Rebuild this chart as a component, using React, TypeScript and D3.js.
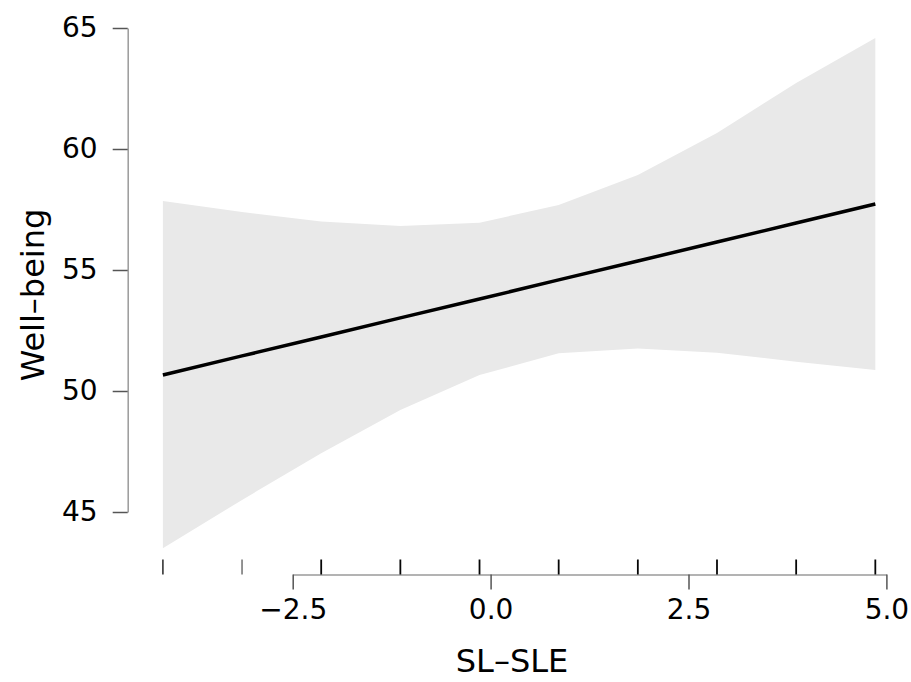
import React, { useEffect, useRef } from "react";
import * as d3 from "d3";

// values
const xValues = [-4.14, -3.14, -2.14, -1.14, -0.14, 0.86, 1.86, 2.86, 3.86, 4.86];
const upperCI = [57.85, 57.4, 57.0, 56.82, 56.95, 57.69, 58.93, 60.66, 62.73, 64.59];
const lowerCI = [43.5, 45.5, 47.43, 49.21, 50.66, 51.56, 51.76, 51.58, 51.21, 50.87];
const fitLine = [50.66, 51.45, 52.23, 53.02, 53.8, 54.59, 55.37, 56.16, 56.94, 57.73];
const rugCounts = [2, 1, 6, 6, 6, 6, 6, 6, 6, 6];
const xTicks = [-2.5, 0, 2.5, 5];
const yTicks = [45, 50, 55, 60, 65];

const width = 911;
const height = 682;
const font = "DejaVu Sans";

export default function App() {
  const ref = useRef<SVGSVGElement>(null);

  useEffect(() => {
    const svg = d3.select(ref.current);
    svg.selectAll("*").remove();

    const xScale = d3.scaleLinear().domain([-2.5, 5]).range([292.7, 886.4]);
    const yScale = d3.scaleLinear().domain([45, 65]).range([512, 28]);

    const rows = xValues.map((x, i) => ({ x, lo: lowerCI[i], hi: upperCI[i], fit: fitLine[i], n: rugCounts[i] }));

    // confidence band
    const area = d3.area<any>()
      .x(d => xScale(d.x))
      .y0(d => yScale(d.lo))
      .y1(d => yScale(d.hi));
    svg.append("path").datum(rows).attr("d", area).attr("fill", "#e9e9e9");

    // fitted line
    const line = d3.line<any>().x(d => xScale(d.x)).y(d => yScale(d.fit));
    svg.append("path").datum(rows).attr("d", line)
      .attr("fill", "none").attr("stroke", "black").attr("stroke-width", 3.5);

    // y axis
    const yAxis = d3.axisLeft(yScale).tickValues(yTicks).tickSize(15).tickSizeOuter(0).tickPadding(15);
    const gy = svg.append("g").attr("transform", "translate(127.7,0)").call(yAxis);
    gy.select(".domain").attr("stroke", "#9a9a9a").attr("stroke-width", 1.5);
    gy.selectAll(".tick line").attr("stroke", "#555").attr("stroke-width", 1.5);
    gy.selectAll(".tick text").attr("font-family", font).attr("font-size", 28).attr("fill", "black");

    // x axis
    const axisY = 574.5;
    const xAxis = d3.axisBottom(xScale).tickValues(xTicks).tickSize(15).tickSizeOuter(0).tickPadding(10)
      .tickFormat(d3.format(".1f"));
    const gx = svg.append("g").attr("transform", `translate(0,${axisY})`).call(xAxis);
    gx.select(".domain").attr("stroke", "#9a9a9a").attr("stroke-width", 1.5);
    gx.selectAll(".tick line").attr("stroke", "#555").attr("stroke-width", 1.5);
    gx.selectAll(".tick text").attr("font-family", font).attr("font-size", 28).attr("fill", "black");

    // rug
    svg.append("g").selectAll("line").data(rows).join("line")
      .attr("x1", d => xScale(d.x)).attr("x2", d => xScale(d.x))
      .attr("y1", axisY - 15).attr("y2", axisY)
      .attr("stroke", "black").attr("stroke-width", 1.8)
      .attr("stroke-opacity", d => 1 - Math.pow(0.53, d.n));

    // titles
    svg.append("text")
      .attr("x", 512).attr("y", 672)
      .attr("text-anchor", "middle")
      .attr("font-family", font).attr("font-size", 32)
      .text("SL\u2013SLE");

    svg.append("text")
      .attr("transform", "translate(44,295) rotate(-90)")
      .attr("text-anchor", "middle")
      .attr("font-family", font).attr("font-size", 32)
      .text("Well\u2013being");
  }, []);

  return (
    <svg ref={ref} width={width} height={height} style={{ position: "absolute", left: 0, top: 0 }} />
  );
}
